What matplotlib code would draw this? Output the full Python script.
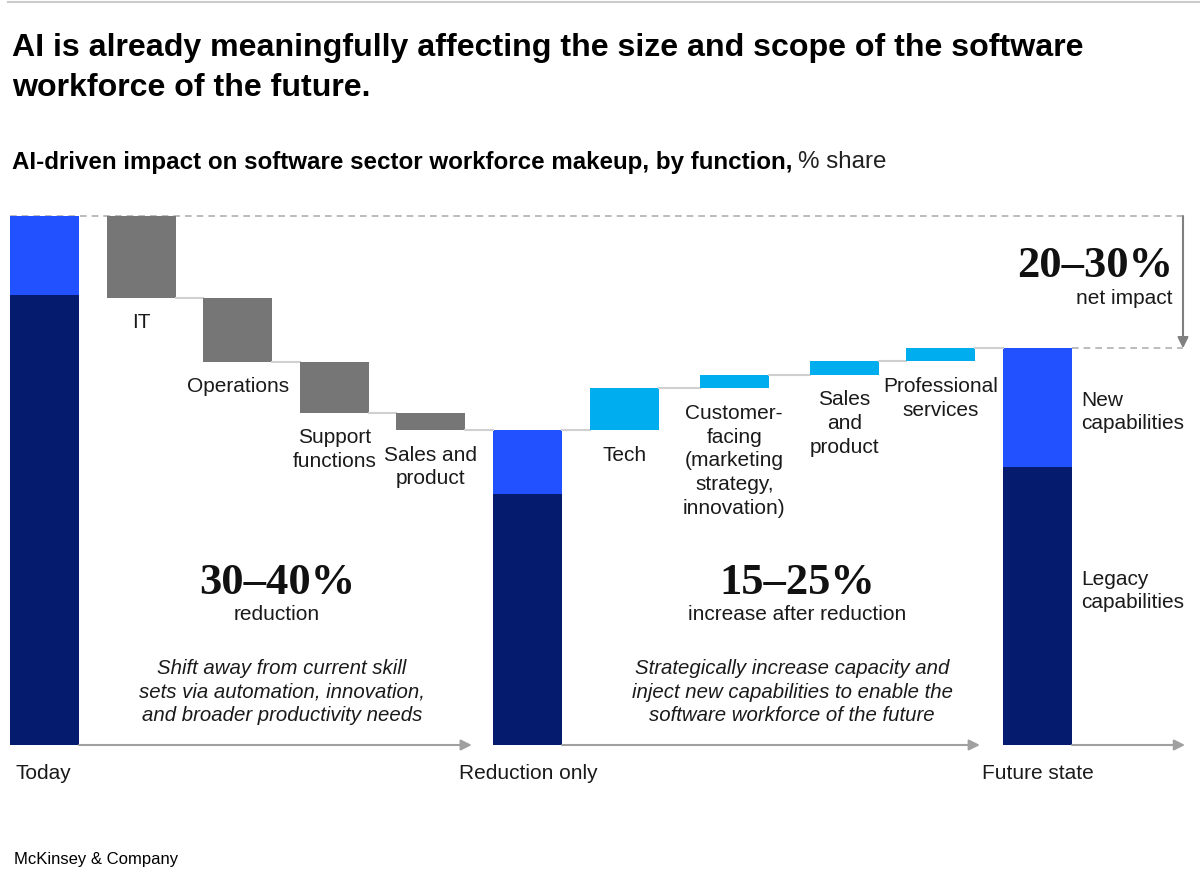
import matplotlib
matplotlib.use('Agg')
import matplotlib.pyplot as plt
from matplotlib.patches import FancyArrowPatch
from matplotlib.lines import Line2D

# Datos del grafico (% de la plantilla actual)
stages = ["Today", "Reduction only", "Future state"]
legacy = [85.1, 47.4, 52.5]
new_caps = [14.9, 12.1, 22.5]

reduction_labels = ["IT", "Operations", "Support\nfunctions", "Sales and\nproduct"]
reductions = [15.5, 12.1, 9.6, 3.3]

increase_labels = ["Tech", "Customer-\nfacing\n(marketing\nstrategy,\ninnovation)",
                   "Sales\nand\nproduct", "Professional\nservices"]
increases = [7.9, 2.6, 2.5, 2.5]

# Colores
NAVY = '#051c6e'
BLUE = '#2251ff'
CYAN = '#00aeef'
GRAY = '#767676'
LINE = '#d0d0d0'
TXT = '#1a1a1a'

SANS = 'Liberation Sans'
SERIF = 'Liberation Serif'
FS = 15

W, H = 1200, 872
fig = plt.figure(figsize=(12, 8.72), dpi=100)
ax = fig.add_axes([0, 0, 1, 1])
ax.set_axis_off()

# mapeo: una categoria = 96.6 px, 100% = 529 px
ax.set_xlim(-44.5 / 96.6, (W - 44.5) / 96.6)
ax.set_ylim(-(H - 745) / 5.29, 745 / 5.29)

# posiciones de las barras
pos_today, pos_red, pos_fut = 0, 5, 10.28
pos_dec = [1, 2, 3, 4]
pos_inc = [6, 7.14, 8.28, 9.28]
bw = 0.714


def fx(px):
    return px / W


def fy(py):
    return 1 - py / H


# barras apiladas (legacy + new)
for p, l, n in zip([pos_today, pos_red, pos_fut], legacy, new_caps):
    ax.bar(p, l, width=bw, color=NAVY, linewidth=0)
    ax.bar(p, n, bottom=l, width=bw, color=BLUE, linewidth=0)

# reducciones
level = legacy[0] + new_caps[0]
prev_right = pos_today + bw / 2
for p, v, lab in zip(pos_dec, reductions, reduction_labels):
    if p != pos_dec[0]:
        ax.plot([prev_right, p - bw / 2], [level, level], color=LINE, lw=1.5, zorder=1)
    ax.bar(p, v, bottom=level - v, width=bw, color=GRAY, linewidth=0)
    level -= v
    ax.annotate(lab, (p, level), xytext=(0, -11), textcoords='offset points',
                ha='center', va='top', fontsize=FS, family=SANS, color=TXT,
                linespacing=1.32)
    prev_right = p + bw / 2
ax.plot([prev_right, pos_red - bw / 2], [level, level], color=LINE, lw=1.5, zorder=1)

# incrementos
level = legacy[1] + new_caps[1]
prev_right = pos_red + bw / 2
for p, v, lab in zip(pos_inc, increases, increase_labels):
    ax.plot([prev_right, p - bw / 2], [level, level], color=LINE, lw=1.5, zorder=1)
    ax.bar(p, v, bottom=level, width=bw, color=CYAN, linewidth=0)
    ax.annotate(lab, (p, level), xytext=(0, -11), textcoords='offset points',
                ha='center', va='top', fontsize=FS, family=SANS, color=TXT,
                linespacing=1.32)
    level += v
    prev_right = p + bw / 2
ax.plot([prev_right, pos_fut - bw / 2], [level, level], color=LINE, lw=1.5, zorder=1)

# lineas discontinuas de impacto neto
top = legacy[0] + new_caps[0]
fut = legacy[2] + new_caps[2]
x_arrow = (1183 - 44.5) / 96.6
ax.plot([pos_today - bw / 2, x_arrow], [top, top], color='#b0b0b0', lw=1.2,
        ls=(0, (4, 3)), zorder=0)
ax.plot([pos_fut + bw / 2, x_arrow], [fut, fut], color='#b0b0b0', lw=1.2,
        ls=(0, (4, 3)), zorder=0)
ax.add_patch(FancyArrowPatch((x_arrow, top), (x_arrow, fut), arrowstyle='-|>',
                             mutation_scale=16, color='#808080', lw=1.5,
                             shrinkA=0, shrinkB=0))

# flechas de la base
for x0, x1 in [(pos_today + bw / 2, pos_red - bw / 2 - 0.22),
               (pos_red + bw / 2, pos_fut - bw / 2 - 0.24),
               (pos_fut + bw / 2, (1185 - 44.5) / 96.6)]:
    ax.add_patch(FancyArrowPatch((x0, 0), (x1, 0), arrowstyle='-|>',
                                 mutation_scale=16, color='#a0a0a0', lw=1.5,
                                 shrinkA=0, shrinkB=0))

# etiquetas de etapas
for px_, lab in zip([15, 459, 982], stages):
    fig.text(fx(px_), fy(773), lab, ha='left', va='center', fontsize=FS,
             family=SANS, color=TXT)

# capacidades
fig.text(fx(1081), fy(412), "New\ncapabilities", ha='left', va='center',
         fontsize=FS, family=SANS, color=TXT, linespacing=1.32)
fig.text(fx(1081), fy(591), "Legacy\ncapabilities", ha='left', va='center',
         fontsize=FS, family=SANS, color=TXT, linespacing=1.32)

# cifras grandes
fig.text(fx(1173), fy(266), "20\u201330%", ha='right', va='center', fontsize=32,
         family=SERIF, weight='bold', color='#111111')
fig.text(fx(1173), fy(298), "net impact", ha='right', va='center', fontsize=FS,
         family=SANS, color=TXT)
fig.text(fx(277), fy(583), "30\u201340%", ha='center', va='center', fontsize=32,
         family=SERIF, weight='bold', color='#111111')
fig.text(fx(277), fy(614), "reduction", ha='center', va='center', fontsize=FS,
         family=SANS, color=TXT)
fig.text(fx(797), fy(583), "15\u201325%", ha='center', va='center', fontsize=32,
         family=SERIF, weight='bold', color='#111111')
fig.text(fx(797), fy(614), "increase after reduction", ha='center', va='center',
         fontsize=FS, family=SANS, color=TXT)

# notas en cursiva
fig.text(fx(282), fy(692), "Shift away from current skill\nsets via automation, innovation,\n"
         "and broader productivity needs", ha='center', va='center', fontsize=14.7,
         family=SANS, style='italic', color=TXT, linespacing=1.32)
fig.text(fx(792), fy(692), "Strategically increase capacity and\ninject new capabilities to enable the\n"
         "software workforce of the future", ha='center', va='center', fontsize=14.7,
         family=SANS, style='italic', color=TXT, linespacing=1.32)

# titulo y subtitulo
fig.add_artist(Line2D([fx(8), 1], [fy(2), fy(2)], color='#cccccc', lw=1.5))
fig.text(fx(12), fy(48), "AI is already meaningfully affecting the size and scope of the software",
         ha='left', va='center', fontsize=23.1, family=SANS, weight='bold', color='#000000')
fig.text(fx(12), fy(88), "workforce of the future.", ha='left', va='center', fontsize=23.1,
         family=SANS, weight='bold', color='#000000')
sub = fig.text(fx(12), fy(162), "AI-driven impact on software sector workforce makeup, by function,",
               ha='left', va='center', fontsize=17.4, family=SANS, weight='bold', color='#000000')
fig.canvas.draw()
bb = sub.get_window_extent()
fig.text(bb.x1 / W + fx(6), fy(162), "% share", ha='left', va='center', fontsize=17.4,
         family=SANS, color='#222222')

fig.text(fx(14), fy(859), "McKinsey & Company", ha='left', va='center', fontsize=12,
         family=SANS, color='#000000')

fig.savefig('out.png', dpi=100)
plt.close()
